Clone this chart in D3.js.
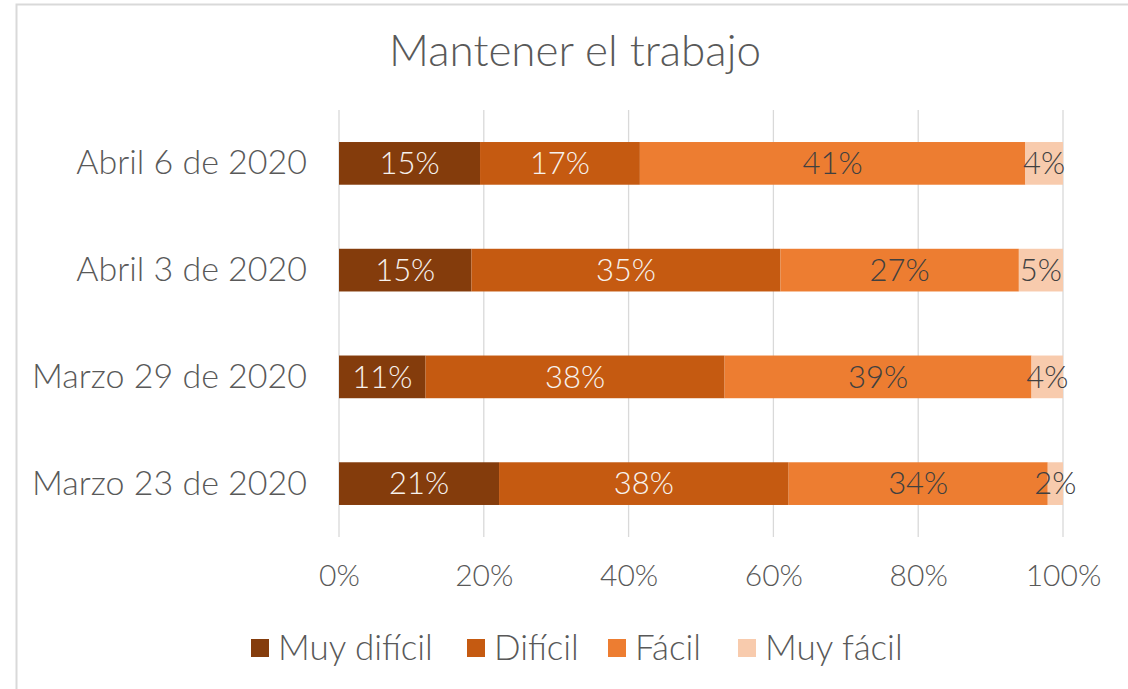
<!DOCTYPE html>
<html><head><meta charset="utf-8">
<script src="https://cdn.jsdelivr.net/npm/d3@7"></script>
<style>body{margin:0;background:#fff}text{font-family:Lato,"Noto Sans",sans-serif;font-weight:300}</style>
</head><body><svg id="c" width="1128" height="689"></svg>
<script>
const categories = ["Abril 6 de 2020","Abril 3 de 2020","Marzo 29 de 2020","Marzo 23 de 2020"];
const seriesNames = ["Muy difícil","Difícil","Fácil","Muy fácil"];
const muyDificil = [15,15,11,21];
const dificil = [17,35,38,38];
const facil = [41,27,39,34];
const muyFacil = [4,5,4,2];
const tickValues = [0,0.2,0.4,0.6,0.8,1];
const colors = ["#843C0C","#C55A11","#ED7D31","#F8CBAD"];
const labelColors = ["#F7F2EE","#F7F2EE","#404040","#404040"];

const svg = d3.select("#c");
const W = 1128, H = 689;
const m = {left:339, right:1063, top:110, bottom:537};

svg.append("rect").attr("x",16.5).attr("y",4.5).attr("width",W).attr("height",H)
  .attr("fill","#fff").attr("stroke","#d9d9d9").attr("stroke-width",2);

const rows = categories.map((c,i)=>({cat:c,"Muy difícil":muyDificil[i],"Difícil":dificil[i],"Fácil":facil[i],"Muy fácil":muyFacil[i]}));
const stacked = d3.stack().keys(seriesNames).offset(d3.stackOffsetExpand)(rows);

const x = d3.scaleLinear().domain([0,1]).range([m.left,m.right]);
const y = d3.scaleBand().domain(categories).range([m.top,m.bottom]).paddingInner(0.6).paddingOuter(0.3);

// gridlines
svg.append("g").selectAll("line").data(tickValues).join("line")
  .attr("x1",d=>x(d)).attr("x2",d=>x(d)).attr("y1",m.top).attr("y2",m.bottom)
  .attr("stroke","#d9d9d9").attr("stroke-width",1.3);

// bars
const g = svg.append("g");
stacked.forEach((s,si)=>{
  g.append("g").selectAll("rect").data(s).join("rect")
   .attr("x",d=>x(d[0])).attr("width",d=>x(d[1])-x(d[0]))
   .attr("y",d=>y(d.data.cat)).attr("height",y.bandwidth())
   .attr("fill",colors[si]);
  g.append("g").selectAll("text").data(s).join("text")
   .attr("x",d=>(x(d[0])+x(d[1]))/2).attr("y",d=>y(d.data.cat)+y.bandwidth()/2)
   .attr("dy","0.35em").attr("text-anchor","middle")
   .attr("font-size",31).attr("fill",labelColors[si])
   .text(d=>d.data[s.key]+"%");
});

// y axis labels
const yAxis = svg.append("g").attr("transform",`translate(${m.left},0)`)
  .call(d3.axisLeft(y).tickSize(0).tickPadding(32));
yAxis.select(".domain").remove();
yAxis.selectAll("text").attr("font-size",34).attr("fill","#595959").style("font-family","Lato,sans-serif").style("font-weight",300);

// x axis labels
const xAxis = svg.append("g").attr("transform",`translate(0,${m.bottom})`)
  .call(d3.axisBottom(x).tickValues(tickValues).tickFormat(d3.format(".0%")).tickSize(0).tickPadding(28));
xAxis.select(".domain").remove();
xAxis.selectAll("text").attr("font-size",30).attr("fill","#595959").style("font-family","Lato,sans-serif").style("font-weight",300);

// title
svg.append("text").attr("x",575).attr("y",66).attr("text-anchor","middle")
  .attr("font-size",44).attr("fill","#595959").text("Mantener el trabajo");

// legend
const legendX = [251,467,608,738];
const lg = svg.append("g");
seriesNames.forEach((n,i)=>{
  lg.append("rect").attr("x",legendX[i]).attr("y",639).attr("width",18).attr("height",18).attr("fill",colors[i]);
  lg.append("text").attr("x",legendX[i]+27).attr("y",648).attr("dy","0.35em")
    .attr("font-size",35).attr("fill","#595959").text(n);
});
</script></body></html>
